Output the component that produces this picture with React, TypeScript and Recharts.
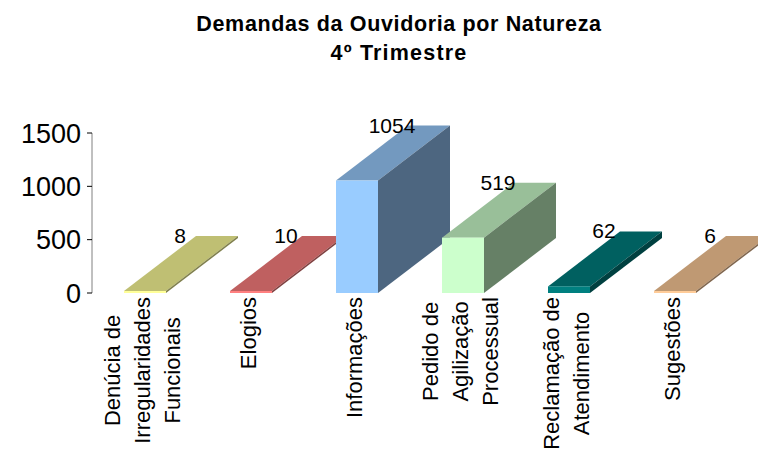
import { BarChart, Bar, XAxis, YAxis, LabelList } from "recharts";

const categories = [
  "Denúcia de Irregularidades Funcionais",
  "Elogios",
  "Informações",
  "Pedido de Agilização Processual",
  "Reclamação de Atendimento",
  "Sugestões"
];
const tickLines = [
  ["Denúcia de", "Irregularidades", "Funcionais"],
  ["Elogios"],
  ["Informações"],
  ["Pedido de", "Agilização", "Processual"],
  ["Reclamação de", "Atendimento"],
  ["Sugestões"]
];
const values = [8, 10, 1054, 519, 62, 6];
const yTicks = [0, 500, 1000, 1500];
const titleLines = ["Demandas da Ouvidoria por Natureza", "4º Trimestre"];

// front faces; top and side are the same colour darkened
const fronts = ["#FFFF99", "#FF8080", "#99CCFF", "#CCFFCC", "#008080", "#FFCC99"];
const tops = ["#BFBF73", "#BF6060", "#7399BF", "#99BF99", "#006060", "#BF9973"];
const sides = ["#80804D", "#804040", "#4D6680", "#668066", "#004040", "#80664D"];

const data = categories.map((name, i) => ({ name, value: values[i] }));

const FONT = "Liberation Sans, Arial, sans-serif";
const TICK_SIZE = 22;
const DEPTH_X = 72;
const DEPTH_Y = 55;

function Box3D({ x, y, width, height, index }: any) {
  const r = x + width;
  const b = y + height;
  return (
    <g>
      <polygon
        points={`${x},${y} ${r},${y} ${r + DEPTH_X},${y - DEPTH_Y} ${x + DEPTH_X},${y - DEPTH_Y}`}
        fill={tops[index]}
      />
      <polygon
        points={`${r},${y} ${r + DEPTH_X},${y - DEPTH_Y} ${r + DEPTH_X},${b - DEPTH_Y} ${r},${b}`}
        fill={sides[index]}
      />
      <rect x={x} y={y} width={width} height={height} fill={fronts[index]} />
    </g>
  );
}

function ValueLabel({ x, y, value }: any) {
  return (
    <text x={x + 56} y={y - DEPTH_Y + 7} textAnchor="middle" fontSize={21} fontFamily={FONT} fill="#000">
      {value}
    </text>
  );
}

function textWidth(s: string) {
  const ctx = document.createElement("canvas").getContext("2d")!;
  ctx.font = `${TICK_SIZE}px ${FONT}`;
  return ctx.measureText(s).width;
}

function CategoryTick({ x, y, index }: any) {
  const lines = tickLines[index];
  const block = Math.max(...lines.map(textWidth));
  const cy = y - 2 + block / 2;
  return (
    <g>
      {lines.map((line, i) => {
        const tx = x - 2 + (i - (lines.length - 1) / 2) * 30;
        return (
          <text
            key={line}
            transform={`translate(${tx + 7},${cy}) rotate(-90)`}
            textAnchor="middle"
            fontSize={TICK_SIZE}
            fontFamily={FONT}
            fill="#000"
          >
            {line}
          </text>
        );
      })}
    </g>
  );
}

export default function App() {
  return (
    <div style={{ position: "absolute", left: 0, top: 0 }}>
      <BarChart width={758} height={451} data={data} margin={{ top: 133, right: 30, left: 0, bottom: 0 }} barSize={42}>
        <XAxis dataKey="name" height={158} interval={0} axisLine={false} tickLine={false} tickMargin={0} tick={<CategoryTick />} />
        <YAxis
          domain={[0, 1500]}
          ticks={yTicks}
          width={92}
          interval={0}
          axisLine={{ stroke: "#808080" }}
          tickLine={{ stroke: "#000" }}
          tickSize={5}
          tickMargin={6}
          tick={{ fill: "#000", fontSize: 27, fontFamily: FONT }}
        />
        <Bar dataKey="value" isAnimationActive={false} minPointSize={2} shape={<Box3D />}>
          <LabelList dataKey="value" content={<ValueLabel />} />
        </Bar>
        {titleLines.map((line, i) => (
          <text
            key={line}
            x={399}
            y={31 + i * 29}
            textAnchor="middle"
            fontSize={21.5}
            letterSpacing={i === 0 ? 0.64 : 1.2}
            fontWeight="bold"
            fontFamily={FONT}
            fill="#000"
          >
            {line}
          </text>
        ))}
      </BarChart>
    </div>
  );
}
